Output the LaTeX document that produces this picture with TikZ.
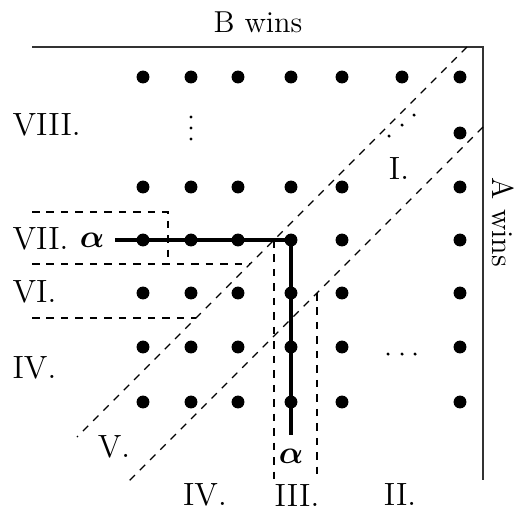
\documentclass[tikz,border=0pt]{standalone}
\usepackage{amsmath,amssymb}
\usepackage{tikz}
\usetikzlibrary{positioning}
\tikzset{
  dot/.style={circle, fill=black, inner sep=0pt, minimum size=4.8pt},
  tinydot/.style={circle, fill=black, inner sep=0pt, minimum size=1.3pt},
  frame/.style={line width=0.5pt, draw=black!80},
  region/.style={dashed, line width=0.45pt, dash pattern=on 2.8pt off 2.6pt},
  strategy/.style={line width=1.3pt, line cap=butt},
  numlabel/.style={inner sep=0pt, font=\large},
  sidelabel/.style={inner sep=0pt, font=\fontsize{11.3pt}{13pt}\selectfont}
}

\begin{document}
\begin{tikzpicture}[x=0.373pt, y=-0.373pt]
    \useasboundingbox (0,0) rectangle (517,510);
    \coordinate (tl) at (32,47);
    \coordinate (tr) at (483,47);
    \coordinate (br) at (483,480);
    \draw[frame] (tl) -- (tr) -- (br);
    \node[sidelabel] (bwins) at (258,22) {B wins};
    \node[sidelabel, rotate=-90] (awins) at (503,222) {A wins};
    \foreach \x [count=\c] in {143,191,238,291,342,402,460}
      \node[dot] (d\c-1) at (\x,77) {};
    \node[dot] (d7-2) at (460,133) {};
    \foreach \y [count=\r from 3] in {187,240,293,347,402} {
      \foreach \x [count=\c] in {143,191,238,291,342}
        \node[dot] (d\c-\r) at (\x,\y) {};
      \node[dot] (d7-\r) at (460,\y) {};
    }
    \foreach \y [count=\i] in {117,128,139}
      \node[tinydot] (vd\i) at (191,\y) {};
    \node[tinydot] (dd1) at (389,136) {};
    \node[tinydot] (dd2) at (402,125) {};
    \node[tinydot] (dd3) at (414,115) {};
    \foreach \x [count=\i] in {388,402,415}
      \node[tinydot] (hd\i) at (\x,354) {};
    \coordinate (dA1) at (467,47);
    \coordinate (dA2) at (77,437);
    \coordinate (dB1) at (483,127);
    \coordinate (dB2) at (127,483);
    \draw[region] (dA1) -- (dA2);
    \draw[region] (dB1) -- (dB2);
    \coordinate (r7a) at (32,212);
    \coordinate (r7b) at (168,212);
    \coordinate (r7c) at (168,264);
    \coordinate (r7d) at (32,264);
    \coordinate (r7e) at (250,264);
    \coordinate (r6a) at (32,318);
    \coordinate (r6b) at (196,318);
    \coordinate (c3a) at (274,240);
    \coordinate (c3b) at (274,480);
    \coordinate (c3c) at (317,293);
    \coordinate (c3d) at (317,480);
    \draw[region] (r7a) -- (r7b) -- (r7c);
    \draw[region] (r7d) -- (r7e);
    \draw[region] (r6a) -- (r6b);
    \draw[region] (c3a) -- (c3b);
    \draw[region] (c3c) -- (c3d);
    \coordinate (sL) at (115,240);
    \coordinate (sB) at (291,435);
    \draw[strategy] (sL) -- (d4-4.center) -- (sB);
    \node[numlabel] (alphaL) at (92,240) {$\boldsymbol{\alpha}$};
    \node[numlabel] (alphaB) at (291,456) {$\boldsymbol{\alpha}$};
    \node[numlabel, anchor=west] (l8) at (12,125) {VIII.};
    \node[numlabel, anchor=west] (l7) at (12,239) {VII.};
    \node[numlabel, anchor=west] (l6) at (12,292) {VI.};
    \node[numlabel, anchor=west] (l4a) at (12,368) {IV.};
    \node[numlabel] (l5) at (114,447) {V.};
    \node[numlabel] (l4b) at (205,495) {IV.};
    \node[numlabel] (l3) at (297,496) {III.};
    \node[numlabel] (l2) at (400,495) {II.};
    \node[numlabel] (l1) at (399,169) {I.};
  \end{tikzpicture}
\end{document}
